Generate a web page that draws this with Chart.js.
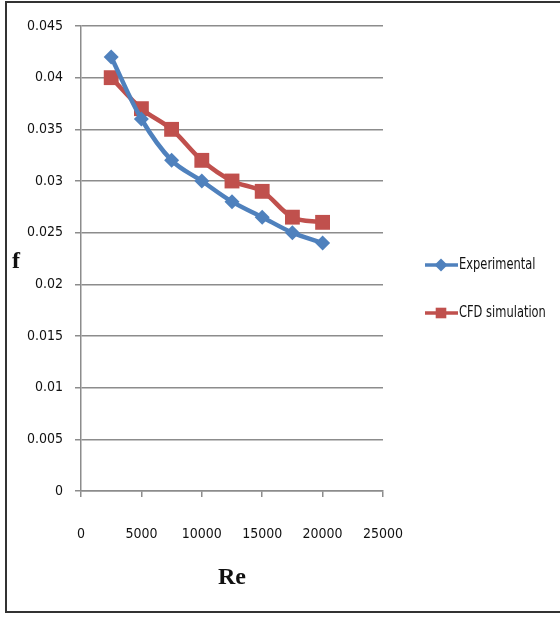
<!DOCTYPE html>
<html>
<head>
<meta charset="utf-8">
<script src="https://cdn.jsdelivr.net/npm/chart.js@4/dist/chart.umd.min.js"></script>
<style>
  html, body { margin: 0; padding: 0; background: #fff; }
  #wrap { position: relative; width: 560px; height: 617px; }
  #frame { position: absolute; left: 5px; top: 1px; width: 570px; height: 612px; border: 2px solid #333; box-sizing: border-box; pointer-events: none; }
  canvas { position: absolute; left: 0; top: 0; }
</style>
</head>
<body>
<div id="wrap">
  <canvas id="chart1" width="560" height="617"></canvas>
  <div id="frame"></div>
</div>
<script>
const reynolds = [2500, 5000, 7500, 10000, 12500, 15000, 17500, 20000];
const experimental = [0.042, 0.036, 0.032, 0.030, 0.028, 0.0265, 0.025, 0.024];
const cfdSimulation = [0.040, 0.037, 0.035, 0.032, 0.030, 0.029, 0.0265, 0.026];
const seriesNames = ["Experimental", "CFD simulation"];

const tickFont = "'DejaVu Sans Condensed', 'Liberation Sans Narrow', sans-serif";
const gridColor = "#8c8c8c";

const toPoints = (ys) => reynolds.map((x, i) => ({ x: x, y: ys[i] }));

// legend + axis titles drawn by hand, Excel style
const extras = {
  id: "extras",
  afterDraw(chart) {
    const ctx = chart.ctx;
    const a = chart.chartArea;
    ctx.save();
    ctx.fillStyle = "#111";
    ctx.font = "bold 24px 'Liberation Serif', serif";
    ctx.textAlign = "center";
    ctx.textBaseline = "middle";
    ctx.fillText("f", 16, 262);
    ctx.fillText("Re", (a.left + a.right) / 2, 578);

    const items = [
      { name: seriesNames[0], color: "#4f81bd", style: "rectRot", r: 6.5, y: 265 },
      { name: seriesNames[1], color: "#c0504d", style: "rect", r: 7.5, y: 313 },
    ];
    ctx.textAlign = "left";
    items.forEach((it) => {
      ctx.strokeStyle = it.color;
      ctx.lineWidth = 3.5;
      ctx.beginPath();
      ctx.moveTo(425, it.y);
      ctx.lineTo(458, it.y);
      ctx.stroke();
      ctx.fillStyle = it.color;
      Chart.helpers.drawPoint(ctx, { pointStyle: it.style, radius: it.r, borderWidth: 0 }, 441, it.y);
      ctx.fillStyle = "#111";
      ctx.save();
      ctx.translate(459, it.y);
      ctx.scale(0.85, 1);
      ctx.font = "15px " + tickFont;
      ctx.fillText(it.name, 0, 0);
      ctx.restore();
    });
    ctx.restore();
  },
};

new Chart(document.getElementById("chart1").getContext("2d"), {
  type: "scatter",
  data: {
    datasets: [
      {
        label: seriesNames[0],
        data: toPoints(experimental),
        showLine: true,
        borderColor: "#4f81bd",
        backgroundColor: "#4f81bd",
        borderWidth: 4.5,
        tension: 0.35,
        pointStyle: "rectRot",
        pointRadius: 7.5,
        pointBorderWidth: 0,
      },
      {
        label: seriesNames[1],
        data: toPoints(cfdSimulation),
        showLine: true,
        borderColor: "#c0504d",
        backgroundColor: "#c0504d",
        borderWidth: 4.5,
        tension: 0.35,
        pointStyle: "rect",
        pointRadius: 10.5,
        pointBorderWidth: 0,
      },
    ],
  },
  plugins: [extras],
  options: {
    responsive: false,
    animation: false,
    layout: { padding: { left: 0, top: 26, right: 177, bottom: 0 } },
    plugins: { legend: { display: false }, tooltip: { enabled: false } },
    scales: {
      x: {
        type: "linear",
        min: 0,
        max: 25000,
        afterFit: (s) => { s.height = 126; },
        ticks: { stepSize: 5000, padding: 29, color: "#111", font: { family: tickFont, size: 14 },
          callback: (v) => String(v) },
        grid: { drawOnChartArea: false, drawTicks: true, tickLength: 6, color: gridColor, lineWidth: 1.5 },
        border: { color: gridColor, width: 1.5 },
      },
      y: {
        min: 0,
        max: 0.045,
        afterFit: (s) => { s.width = 81; },
        ticks: { stepSize: 0.005, padding: 12, color: "#111", font: { family: tickFont, size: 14 },
          callback: (v) => String(+v.toFixed(4)) },
        grid: { tickLength: 6, color: gridColor, lineWidth: 1.5 },
        border: { color: gridColor, width: 1.5 },
      },
    },
  },
});
</script>
</body>
</html>
